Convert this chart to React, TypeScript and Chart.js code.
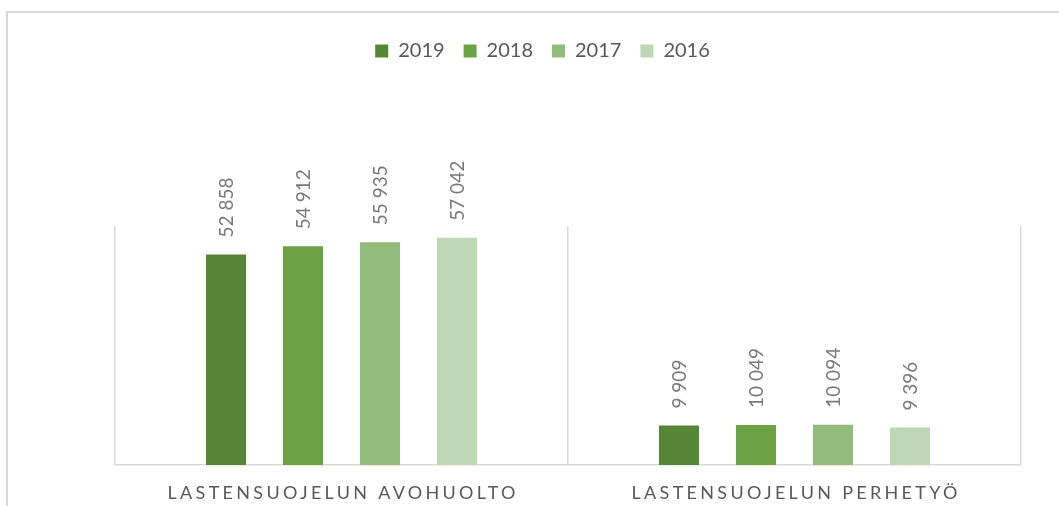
import React, { useEffect, useRef } from "react";
import { Chart, registerables } from "chart.js";

Chart.register(...registerables);

const categories = ["LASTENSUOJELUN AVOHUOLTO", "LASTENSUOJELUN PERHETYÖ"];
const seriesLabels = ["2019", "2018", "2017", "2016"];
const values2019 = [52858, 9909];
const values2018 = [54912, 10049];
const values2017 = [55935, 10094];
const values2016 = [57042, 9396];
const seriesColors = ["#558636", "#6aa244", "#93bb7a", "#bfd7b3"];
const yMin = 0;
const yMax = 60000;

const FONT = "Lato, 'Open Sans', sans-serif";

function fmt(v: number): string {
  return String(v).replace(/\B(?=(\d{3})+(?!\d))/g, " ");
}

const dataLabelsPlugin = {
  id: "barValueLabels",
  afterDatasetsDraw(chart: any) {
    const ctx = chart.ctx;
    ctx.save();
    ctx.font = `19px ${FONT}`;
    ctx.fillStyle = "#7a7a7a";
    ctx.textAlign = "left";
    ctx.textBaseline = "middle";
    chart.data.datasets.forEach((ds: any, di: number) => {
      const meta = chart.getDatasetMeta(di);
      meta.data.forEach((bar: any, i: number) => {
        ctx.save();
        ctx.translate(bar.x + 1, bar.y - 17);
        ctx.rotate(-Math.PI / 2);
        ctx.fillText(fmt(ds.data[i]), 0, 0);
        ctx.restore();
      });
    });
    ctx.restore();
  },
};

const categoryLabelsPlugin = {
  id: "spacedCategoryLabels",
  afterDraw(chart: any) {
    const ctx = chart.ctx;
    const x = chart.scales.x;
    ctx.save();
    ctx.font = `18px ${FONT}`;
    ctx.fillStyle = "#595959";
    (ctx as any).letterSpacing = "3.3px";
    ctx.textAlign = "center";
    ctx.textBaseline = "middle";
    (chart.data.labels as string[]).forEach((lab: string, i: number) => {
      ctx.fillText(lab, x.getPixelForTick(i) + 1.65, 493);
    });
    ctx.restore();
  },
};

const legendSpacer = {
  id: "legendSpacer",
  beforeInit(chart: any) {
    const legend = chart.legend;
    if (!legend) return;
    const origFit = legend.fit;
    legend.fit = function () {
      origFit.call(this);
      this.height = 204;
    };
  },
  afterLayout(chart: any) {
    const legend = chart.legend;
    if (!legend) return;
    legend.left = 0;
    legend.right = 1085;
  },
};

export default function App() {
  const canvasRef = useRef<HTMLCanvasElement | null>(null);

  useEffect(() => {
    const canvas = canvasRef.current;
    if (!canvas) return;
    const seriesValues = [values2019, values2018, values2017, values2016];
    const chart = new Chart(canvas, {
      type: "bar",
      data: {
        labels: categories,
        datasets: seriesLabels.map((label, i) => ({
          label,
          data: seriesValues[i],
          backgroundColor: seriesColors[i],
          borderWidth: 0,
          categoryPercentage: 0.68,
          barPercentage: 0.52,
        })),
      },
      options: {
        responsive: false,
        animation: false,
        devicePixelRatio: 1,
        layout: { padding: { left: 115, right: 38, top: 22, bottom: 41 } },
        plugins: {
          tooltip: { enabled: false },
          legend: {
            position: "top",
            labels: {
              boxWidth: 13,
              boxHeight: 13,
              padding: 19,
              color: "#595959",
              font: { family: FONT, size: 20 },
            },
          },
        },
        scales: {
          x: {
            offset: true,
            grid: {
              display: true,
              offset: true,
              drawTicks: false,
              color: "#d9d9d9",
              lineWidth: 1.5,
            },
            border: { display: true, color: "#d9d9d9", width: 1.5 },
            ticks: { display: false },
          },
          y: {
            display: false,
            min: yMin,
            max: yMax,
          },
        },
      },
      plugins: [legendSpacer, dataLabelsPlugin, categoryLabelsPlugin],
    });
    return () => chart.destroy();
  }, []);

  return (
    <div
      style={{
        position: "absolute",
        left: 0,
        top: 0,
        width: 1059,
        height: 506,
        overflow: "hidden",
        background: "#ffffff",
      }}
    >
      <div
        style={{
          position: "absolute",
          left: 6,
          top: 11,
          width: 1100,
          height: 600,
          borderTop: "2px solid #d9d9d9",
          borderLeft: "2px solid #d9d9d9",
          pointerEvents: "none",
        }}
      />
      <canvas
        ref={canvasRef}
        width={1059}
        height={506}
        style={{ position: "absolute", left: 0, top: 0, display: "block", width: 1059, height: 506 }}
      />
    </div>
  );
}
